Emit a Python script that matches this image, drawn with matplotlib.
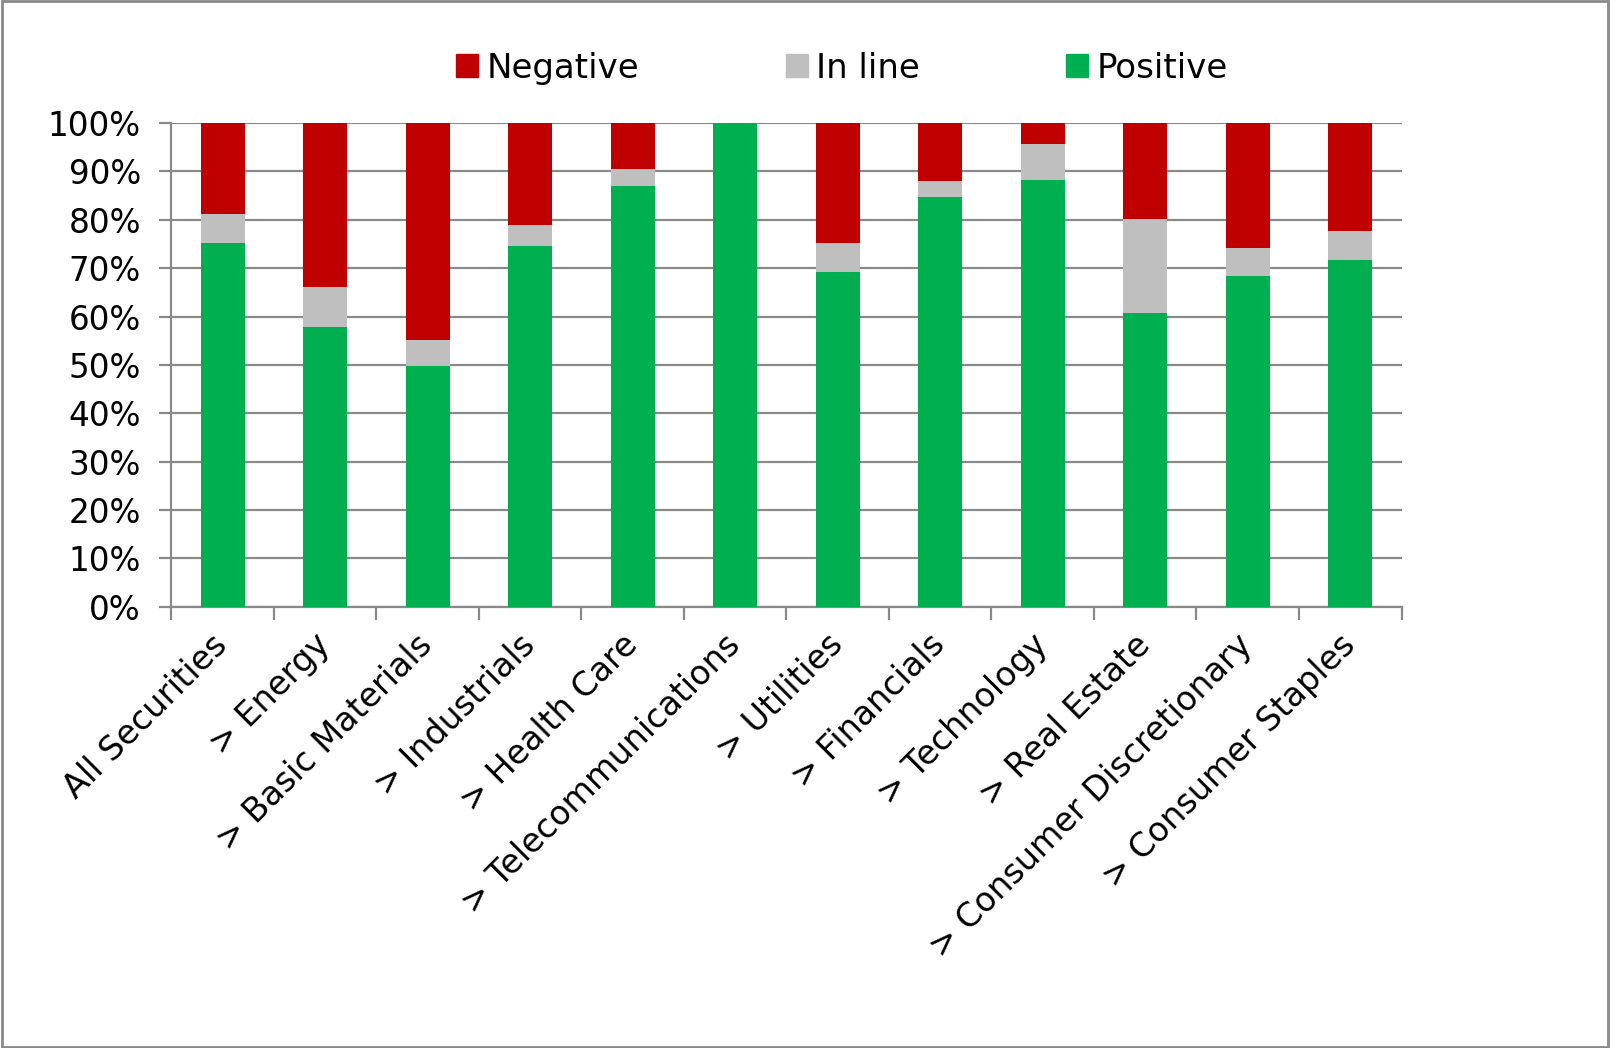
import numpy as np
import matplotlib.pyplot as plt
from matplotlib.patches import Patch, Rectangle

categories = ["All Securities", "> Energy", "> Basic Materials", "> Industrials",
              "> Health Care", "> Telecommunications", "> Utilities", "> Financials",
              "> Technology", "> Real Estate", "> Consumer Discretionary",
              "> Consumer Staples"]
positive = [75.3, 57.9, 49.7, 74.6, 87.1, 100.0, 69.3, 84.8, 88.3, 60.8, 68.3, 71.6]
in_line = [5.9, 8.3, 5.5, 4.4, 3.5, 0.0, 6.0, 3.3, 7.4, 19.4, 5.9, 6.1]
negative = [100 - p - i for p, i in zip(positive, in_line)]

RED = "#C00000"
GREY = "#BFBFBF"
GREEN = "#00B050"
AXC = "#898989"

plt.rcParams['font.family'] = ['DejaVu Sans']

fig = plt.figure(figsize=(16.1, 10.48), dpi=100)
ax = fig.add_axes([0.1065, 0.4212, 0.764, 0.4613])

x = np.arange(len(categories))
w = 0.43
ax.bar(x, positive, w, color=GREEN, zorder=3)
ax.bar(x, in_line, w, bottom=positive, color=GREY, zorder=3)
ax.bar(x, negative, w, bottom=np.array(positive) + np.array(in_line), color=RED, zorder=3)

ax.set_xlim(-0.5, len(categories) - 0.5)
ax.set_ylim(0, 100)
ax.set_yticks(np.arange(0, 101, 10))
ax.set_yticklabels([f"{v}%" for v in range(0, 101, 10)], fontsize=23.5)
ax.yaxis.grid(True, color=AXC, linewidth=1.6, zorder=0)
ax.tick_params(axis='y', length=9, width=1.6, color=AXC, pad=13)

ax.set_xticks(x)
ax.set_xticklabels(categories, rotation=45, ha='right', va='center',
                   rotation_mode='anchor', fontsize=24)
ax.tick_params(axis='x', which='major', length=0, pad=24)
ax.set_xticks(np.arange(-0.5, len(categories), 1), minor=True)
ax.tick_params(axis='x', which='minor', length=9, width=1.6, color=AXC)

for s in ['top', 'right']:
    ax.spines[s].set_visible(False)
for s in ['left', 'bottom']:
    ax.spines[s].set_color(AXC)
    ax.spines[s].set_linewidth(1.6)

handles = [Patch(color=RED), Patch(color=GREY), Patch(color=GREEN)]
fig.legend(handles, ["Negative", "In line", "Positive"], loc='center',
           bbox_to_anchor=(0.523, 0.935), ncol=3, frameon=False, fontsize=24.5,
           handlelength=0.65, handleheight=0.65, handletextpad=0.25,
           columnspacing=4.3)

fig.patches.append(Rectangle((0.001, 0.001), 0.998, 0.998, transform=fig.transFigure,
                             fill=False, edgecolor=AXC, linewidth=2))

fig.savefig("out.png", dpi=100)
